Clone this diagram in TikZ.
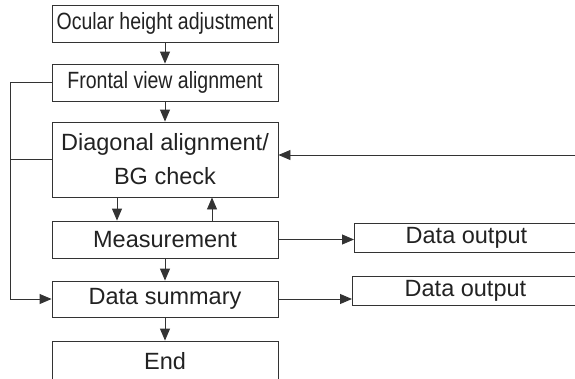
\documentclass[tikz,border=0pt]{standalone}
\usepackage{fontspec}
\setmainfont{Liberation Sans}
\newfontfamily\narrowfont{Liberation Sans}[FakeStretch=0.83]
\usepackage{tikz}
\usetikzlibrary{positioning,arrows.meta,calc}
\definecolor{linegray}{HTML}{333333}
\definecolor{textgray}{HTML}{222222}
\tikzset{
  flowbox/.style={draw=linegray, line width=0.9pt, minimum width=226pt, minimum height=37pt,
    inner sep=0pt, font=\fontsize{23.5}{34}\selectfont, text=textgray, align=center},
  outbox/.style={flowbox, anchor=west, minimum width=240pt, minimum height=29pt},
  flowline/.style={draw=linegray, line width=0.9pt},
  flowarrow/.style={flowline, -{Triangle[length=12pt,width=10pt]}}
}
% text centred in the visible part of a box that runs past the edge
\newcommand{\cuttext}[2]{\makebox[240pt][l]{\makebox[#1]{#2}}}

\begin{document}
\begin{tikzpicture}[x=1pt,y=-1pt]
    \useasboundingbox (0,0) rectangle (575,378);
    \clip (0,0) rectangle (575,378);
    % main column
    \node[flowbox] (ocu) at (165,23.5) {\narrowfont Ocular height adjustment};
    \node[flowbox] (fro) at (165,82.5) {\narrowfont Frontal view alignment};
    \node[flowbox, minimum height=75pt] (diag) at (165,159.5) {Diagonal alignment/\\BG check};
    \node[flowbox] (meas) at (165,239.5) {Measurement};
    \node[flowbox, minimum height=36pt] (summ) at (165,299) {Data summary};
    \node[flowbox, minimum height=40pt] (fin) at (165,361) {End};
    % outputs, running past the right edge
    \node[outbox] (out1) at (354,237.5) {\cuttext{224pt}{Data output}};
    \node[outbox] (out2) at (352,290.5) {\cuttext{226pt}{Data output}};
    \coordinate (dnx) at (117,0);
    \coordinate (upx) at (212,0);
    \coordinate (lft) at (10.5,0);
    \coordinate (rgt) at (575,155);
    \draw[flowarrow] (ocu) -- (fro);
    \draw[flowarrow] (fro) -- (diag);
    \draw[flowarrow] (diag.south -| dnx) -- (meas.north -| dnx);
    \draw[flowarrow] (meas.north -| upx) -- (diag.south -| upx);
    \draw[flowarrow] (meas) -- (summ);
    \draw[flowarrow] (summ) -- (fin.north);
    \draw[flowarrow] (meas.east) -- (meas.east -| out1.west);
    \draw[flowarrow] (summ.east) -- (summ.east -| out2.west);
    % loops
    \draw[flowarrow] (fro.west) -| (lft |- summ.west) -- (summ.west);
    \draw[flowline] (diag.west) -- (diag.west -| lft);
    \draw[flowarrow] (rgt) -- (rgt -| diag.east);
\end{tikzpicture}
\end{document}
